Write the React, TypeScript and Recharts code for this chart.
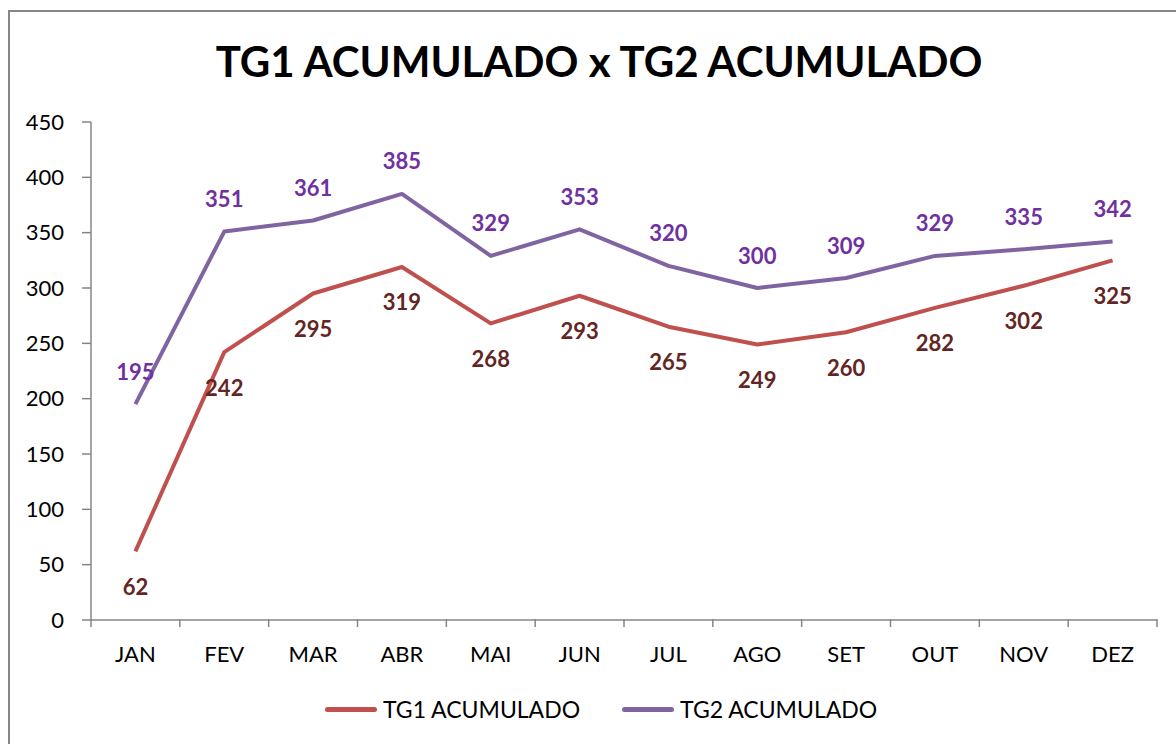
import React from "react";
import { LineChart, Line, XAxis, YAxis, LabelList } from "recharts";

const months = ["JAN", "FEV", "MAR", "ABR", "MAI", "JUN", "JUL", "AGO", "SET", "OUT", "NOV", "DEZ"];
const tg1 = [62, 242, 295, 319, 268, 293, 265, 249, 260, 282, 302, 325];
const tg2 = [195, 351, 361, 385, 329, 353, 320, 300, 309, 329, 335, 342];
const yTicks = [0, 50, 100, 150, 200, 250, 300, 350, 400, 450];

const data = months.map((m, i) => ({ month: m, tg1: tg1[i], tg2: tg2[i] }));

const FONT = "Lato, 'Open Sans', sans-serif";
const AXIS = "#868686";
const RED = "#C0504D";
const PURPLE = "#8064A2";
const RED_LABEL = "#632523";
const PURPLE_LABEL = "#7030A0";

const CHART_W = 1200;
const CHART_H = 760;
const M = { top: 110, right: 53, bottom: 112, left: 0 };
const Y_W = 81;
const X_H = 40;
const HALF_BAND = (CHART_W - M.left - M.right - Y_W) / months.length / 2;

function XTick(props: any) {
  const { x, y, payload, index } = props;
  const top = y - 9;
  return (
    <g>
      <line x1={x - HALF_BAND} x2={x - HALF_BAND} y1={top} y2={top + 8} stroke={AXIS} strokeWidth={1.5} />
      {index === months.length - 1 && (
        <line x1={x + HALF_BAND} x2={x + HALF_BAND} y1={top} y2={top + 8} stroke={AXIS} strokeWidth={1.5} />
      )}
      <text x={x} y={top + 34} textAnchor="middle" dominantBaseline="central" fontSize={22} fill="#000" fontFamily={FONT}>
        {payload.value}
      </text>
    </g>
  );
}

function makeLabel(dy: number, color: string) {
  return (props: any) => {
    const { x, y, value } = props;
    return (
      <text x={x} y={y + dy} textAnchor="middle" dominantBaseline="central" fontSize={22} fontWeight={700} fill={color} fontFamily={FONT}>
        {value}
      </text>
    );
  };
}

function LegendItem({ color, label, gap }: { color: string; label: string; gap: number }) {
  return (
    <div style={{ display: "flex", alignItems: "center", marginRight: gap }}>
      <div style={{ width: 52, height: 5, borderRadius: 3, background: color, marginRight: 6 }} />
      <span style={{ fontSize: 23, fontFamily: FONT, color: "#000" }}>{label}</span>
    </div>
  );
}

export default function App() {
  return (
    <div
      style={{
        position: "fixed",
        left: 8,
        top: 10,
        width: 1168,
        height: 734,
        overflow: "hidden",
        borderLeft: `2px solid ${AXIS}`,
        borderTop: `2px solid ${AXIS}`,
        background: "#fff",
      }}
    >
      <div
        style={{
          position: "absolute",
          left: 0,
          width: 1178,
          top: 24,
          textAlign: "center",
          fontFamily: FONT,
          fontWeight: 700,
          fontSize: 42,
          color: "#000",
        }}
      >
        TG1 ACUMULADO x TG2 ACUMULADO
      </div>
      <div style={{ position: "absolute", left: 0, top: 0 }}>
        <LineChart width={CHART_W} height={CHART_H} data={data} margin={M}>
          <XAxis
            dataKey="month"
            height={X_H}
            stroke={AXIS}
            strokeWidth={1.5}
            tickLine={false}
            tick={<XTick />}
            interval={0}
            padding={{ left: HALF_BAND, right: HALF_BAND }}
          />
          <YAxis
            width={Y_W}
            domain={[0, 450]}
            ticks={yTicks}
            interval={0}
            stroke={AXIS}
            strokeWidth={1.5}
            tickSize={9}
            tickMargin={18}
            tick={{ fill: "#000", fontSize: 22, fontFamily: FONT }}
          />
          <Line
            dataKey="tg1"
            stroke={RED}
            strokeWidth={4}
            dot={false}
            isAnimationActive={false}
            strokeLinejoin="round"
          >
            <LabelList dataKey="tg1" content={makeLabel(35, RED_LABEL)} />
          </Line>
          <Line
            dataKey="tg2"
            stroke={PURPLE}
            strokeWidth={4}
            dot={false}
            isAnimationActive={false}
            strokeLinejoin="round"
          >
            <LabelList dataKey="tg2" content={makeLabel(-33, PURPLE_LABEL)} />
          </Line>
        </LineChart>
      </div>
      <div style={{ position: "absolute", top: 683, left: 315, display: "flex" }}>
        <LegendItem color={RED} label="TG1 ACUMULADO" gap={42} />
        <LegendItem color={PURPLE} label="TG2 ACUMULADO" gap={0} />
      </div>
    </div>
  );
}
